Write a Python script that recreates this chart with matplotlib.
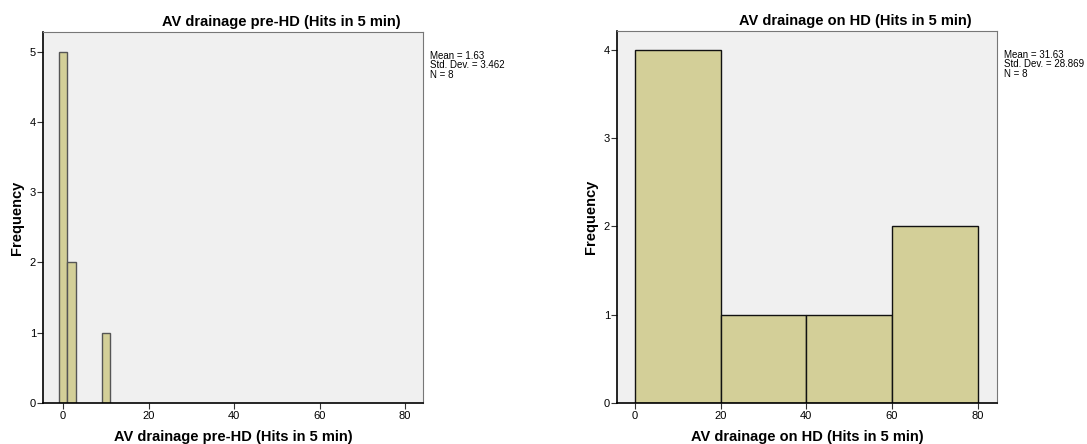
import matplotlib
matplotlib.use("Agg")
import matplotlib.pyplot as plt

plt.rcParams["font.family"] = ["Liberation Sans", "DejaVu Sans"]

# ==========================================================
# Data
# ==========================================================

PRE_TITLE = "AV drainage pre-HD (Hits in 5 min)"
PRE_EDGES = [-1, 1, 3, 5, 7, 9, 11]
PRE_COUNTS = [5, 2, 0, 0, 0, 1]
PRE_STATS = "Mean = 1.63\nStd. Dev. = 3.462\nN = 8"

ON_TITLE = "AV drainage on HD (Hits in 5 min)"
ON_EDGES = [0, 20, 40, 60, 80]
ON_COUNTS = [4, 1, 1, 2]
ON_STATS = "Mean = 31.63\nStd. Dev. = 28.869\nN = 8"

X_TICKS = [0, 20, 40, 60, 80]

BAR_COLOR = "#d3cf98"
BG_COLOR = "#f0f0f0"


def draw_hist(ax, edges, counts, title, stats, edge_color, xlim, ylim):
    lefts = edges[:-1]
    widths = [edges[i + 1] - edges[i] for i in range(len(counts))]
    for left, w, c in zip(lefts, widths, counts):
        if c > 0:
            ax.bar(left, c, width=w, align="edge", color=BAR_COLOR,
                   edgecolor=edge_color, linewidth=1.0)
    ax.set_facecolor(BG_COLOR)
    ax.set_xlim(*xlim)
    ax.set_ylim(*ylim)
    ax.set_xticks(X_TICKS)
    ax.set_yticks(range(0, int(ylim[1]) + 1))
    ax.tick_params(axis="both", labelsize=8, length=4, width=0.8,
                   color="#333333", pad=2)
    ax.tick_params(axis="y", pad=1)
    for side in ["top", "right"]:
        ax.spines[side].set_color("#777777")
    for side in ["left", "bottom"]:
        ax.spines[side].set_color("black")
        ax.spines[side].set_linewidth(1.2)
    # SPSS centres the title over plot + stats box
    ax.set_title(title, fontsize=10.5, fontweight="bold", pad=4, x=0.627)
    ax.set_xlabel(title, fontsize=10.5, fontweight="bold", labelpad=6)
    ax.set_ylabel("Frequency", fontsize=10.5, fontweight="bold", labelpad=4)
    ax.text(1.018, 0.95, stats, transform=ax.transAxes, fontsize=7,
            va="top", ha="left", linespacing=0.95)


def main():
    fig = plt.figure(figsize=(10.87, 4.44), dpi=100)
    ax1 = fig.add_axes([0.0396, 0.0923, 0.3496, 0.8356])
    ax2 = fig.add_axes([0.5676, 0.0923, 0.3496, 0.8379])

    draw_hist(ax1, PRE_EDGES, PRE_COUNTS, PRE_TITLE, PRE_STATS,
              "#555555", (-4.7, 84.2), (0, 5.28))
    draw_hist(ax2, ON_EDGES, ON_COUNTS, ON_TITLE, ON_STATS,
              "#111111", (-4.2, 84.5), (0, 4.215))

    fig.savefig("out.png", dpi=100)
    plt.close(fig)


if __name__ == "__main__":
    main()
